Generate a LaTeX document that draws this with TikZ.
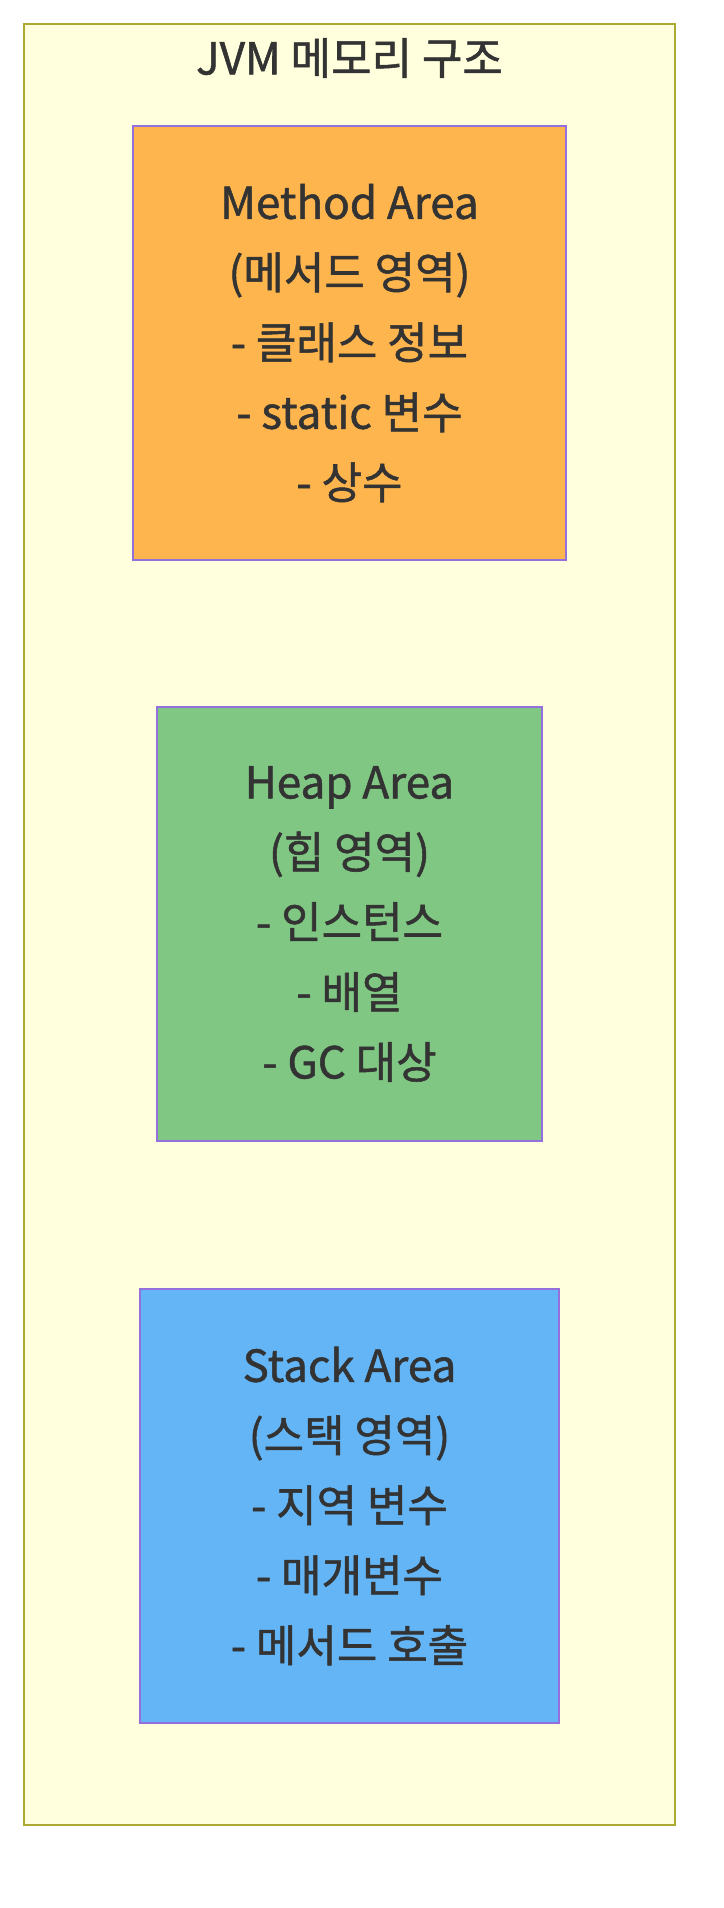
\documentclass[tikz,border=0pt]{standalone}
\usepackage{fontspec}
\setmainfont{Noto Sans CJK KR}[FakeBold=1.2]
\definecolor{jvmfill}{HTML}{FFFFDE}
\definecolor{jvmborder}{HTML}{AAAA33}
\definecolor{areaborder}{HTML}{9370DB}
\definecolor{methodfill}{HTML}{FFB54D}
\definecolor{heapfill}{HTML}{81C784}
\definecolor{stackfill}{HTML}{64B5F6}
\definecolor{textgray}{HTML}{333333}
\newcommand{\areafont}{\fontsize{44}{70}\selectfont}
\tikzset{
	areabox/.style={draw=areaborder, line width=2.5pt, rectangle, minimum height=434pt, align=center, text=textgray, font=\areafont, inner sep=0pt}
}
\begin{document}
\begin{tikzpicture}[x=1pt, y=-1pt]
		\useasboundingbox (0,0) rectangle (723,1908);

		% Outer frame: JVM memory
		\node[draw=jvmborder, line width=2.5pt, rectangle, fill=jvmfill, minimum width=651pt, minimum height=1801pt] (jvm) at (349.5,924.5) {};
		\node[text=textgray, font=\areafont] (jvmtitle) at (349.5,58) {JVM 메모리 구조};

		% Area 1: Method
		\node[areabox, fill=methodfill, minimum width=433pt] (method) at (349.5,343) {Method Area\\(메서드 영역)\\- 클래스 정보\\- static 변수\\- 상수};

		% Area 2: Heap
		\node[areabox, fill=heapfill, minimum width=385pt] (heap) at (349.5,924) {Heap Area\\(힙 영역)\\- 인스턴스\\- 배열\\- GC 대상};

		% Area 3: Stack
		\node[areabox, fill=stackfill, minimum width=419pt] (stack) at (349.5,1506) {Stack Area\\(스택 영역)\\- 지역 변수\\- 매개변수\\- 메서드 호출};
	\end{tikzpicture}
\end{document}
